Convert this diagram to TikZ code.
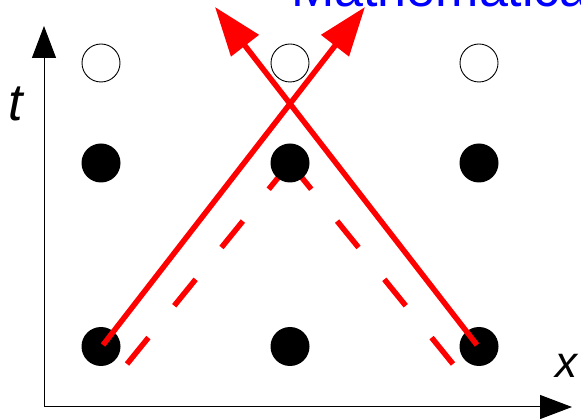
\documentclass[tikz,border=0pt]{standalone}
\usepackage{fontspec}
\newfontfamily\labfont{Liberation Sans}
\usetikzlibrary{arrows.meta}
\begin{document}
\begin{tikzpicture}[x=1pt,y=-1pt,
  opendot/.style={circle,draw=black,line width=0.9pt,minimum size=38pt,inner sep=0pt},
  fulldot/.style={circle,fill=black,minimum size=39pt,inner sep=0pt},
  ray/.style={red,line width=5.5pt,-{Triangle[length=49pt,width=34pt]}},
  dray/.style={red,line width=5.5pt,dash pattern=on 34pt off 41pt},
  axis/.style={black,line width=1pt,-{Triangle[length=32pt,width=24pt]}},
  lab/.style={inner sep=0pt,anchor=base west}]
\useasboundingbox (0,0) rectangle (581,419);
% axes
\coordinate (O) at (44,407);
\coordinate (ytip) at (44,26);
\coordinate (xtip) at (572,407);
\draw[axis] (O) -- (ytip);
\draw[axis] (O) -- (xtip);
\node[lab,font=\labfont\itshape\fontsize{52}{60}\selectfont] (tlab) at (8,121) {t};
\node[lab,font=\labfont\itshape\fontsize{44}{52}\selectfont] (xlab) at (555,378) {x};
\node[lab,text=blue,font=\labfont\fontsize{52}{60}\selectfont] (title) at (291,7) {Mathematica};
% positions
\coordinate (p11) at (101,346.5);
\coordinate (p12) at (290,346.5);
\coordinate (p13) at (479,346.5);
\coordinate (p21) at (101,163);
\coordinate (p22) at (290,163);
\coordinate (p23) at (479,163);
\coordinate (p31) at (101,63);
\coordinate (p32) at (290,63);
\coordinate (p33) at (479,63);
\coordinate (dL) at (127,364);
\coordinate (dR) at (453,364);
% dashed rays (under the dots)
\draw[dray] (dL) -- (p22);
\draw[dray] (dR) -- (p22);
% dots
\node[fulldot] (d11) at (p11) {};
\node[fulldot] (d12) at (p12) {};
\node[fulldot] (d13) at (p13) {};
\node[fulldot] (d21) at (p21) {};
\node[fulldot] (d22) at (p22) {};
\node[fulldot] (d23) at (p23) {};
\node[opendot] (d31) at (p31) {};
\node[opendot] (d32) at (p32) {};
\node[opendot] (d33) at (p33) {};
% solid rays
\coordinate (sL) at (103,345);
\coordinate (sR) at (477,345);
\coordinate (tipL) at (215,7);
\coordinate (tipR) at (365,7);
\draw[ray] (sL) -- (tipR);
\draw[ray] (sR) -- (tipL);
\end{tikzpicture}
\end{document}
